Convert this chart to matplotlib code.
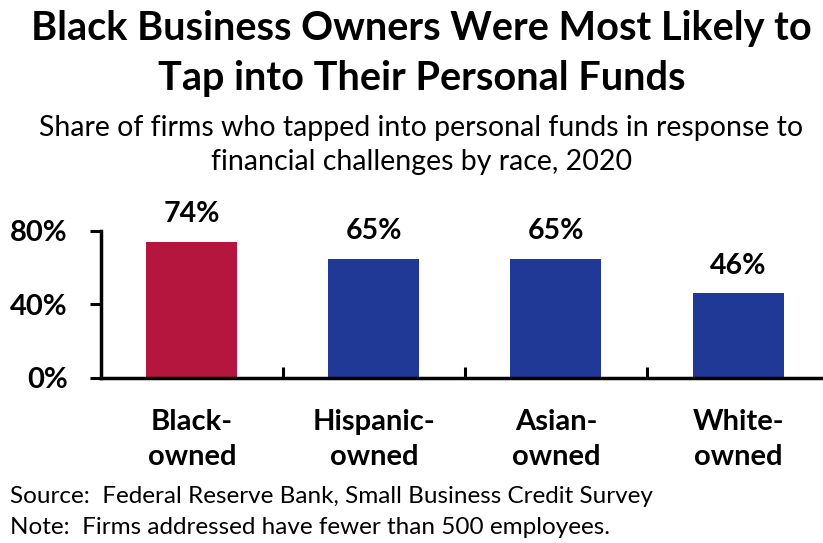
import numpy as np
import matplotlib.pyplot as plt

# data
groups = ['Black-\nowned', 'Hispanic-\nowned', 'Asian-\nowned', 'White-\nowned']
share = [74, 65, 65, 46]
bar_colors = ['#B5163E', '#203896', '#203896', '#203896']
yticks = [0, 40, 80]

plt.rcParams['font.family'] = ['Lato', 'DejaVu Sans']

fig = plt.figure(figsize=(8.23, 5.43), dpi=100)
ax = fig.add_axes([0.1227, 0.3039, 0.8773, 0.2707])

x = np.arange(len(groups))
bars = ax.bar(x, share, width=0.5, color=bar_colors)

# value labels on top of bars
for xi, v in zip(x, share):
    ax.text(xi, v + 8, f'{v}%', ha='center', va='bottom', fontsize=20.5,
            fontweight='bold', clip_on=False)

ax.set_xlim(-0.5, 3.467)
ax.set_ylim(0, 80)
ax.set_yticks(yticks)
ax.set_yticklabels([f'{t}%' for t in yticks], fontsize=21, fontweight='bold')
ax.tick_params(axis='y', length=8, width=2.2, pad=16, direction='out')

# category labels under the axis, separator ticks between categories
ax.set_xticks(x)
ax.set_xticklabels(groups, fontsize=21, fontweight='bold', linespacing=1.45)
ax.tick_params(axis='x', which='major', length=0, pad=22)
ax.set_xticks(x[:-1] + 0.5, minor=True)
ax.tick_params(axis='x', which='minor', length=8, width=2.2, direction='in')

for side in ['top', 'right']:
    ax.spines[side].set_visible(False)
ax.spines['left'].set_linewidth(2.5)
ax.spines['bottom'].set_linewidth(2.5)

# title block
fig.text(0.512, 0.948, 'Black Business Owners Were Most Likely to',
         ha='center', va='center', fontsize=28.5, fontweight='bold')
fig.text(0.512, 0.856, 'Tap into Their Personal Funds',
         ha='center', va='center', fontsize=28.5, fontweight='bold')
fig.text(0.512, 0.764, 'Share of firms who tapped into personal funds in response to',
         ha='center', va='center', fontsize=20.5)
fig.text(0.512, 0.702, 'financial challenges by race, 2020',
         ha='center', va='center', fontsize=20.5)

# footnotes
fig.text(0.012, 0.085, 'Source:  Federal Reserve Bank, Small Business Credit Survey',
         ha='left', va='center', fontsize=17.5)
fig.text(0.012, 0.029, 'Note:  Firms addressed have fewer than 500 employees.',
         ha='left', va='center', fontsize=17.5)

plt.savefig('out.png', dpi=100)
